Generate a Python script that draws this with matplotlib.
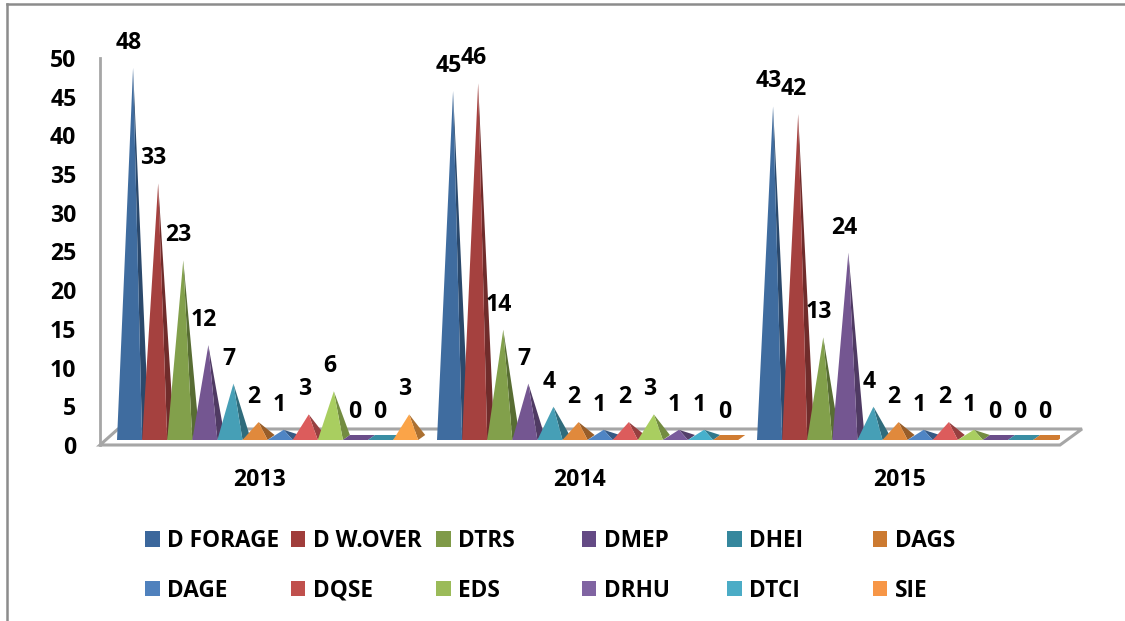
import matplotlib
matplotlib.use("Agg")
import matplotlib.pyplot as plt
from matplotlib.colors import to_rgb
from matplotlib.lines import Line2D
from matplotlib.patches import Patch

years = ["2013", "2014", "2015"]
series_names = ["D FORAGE", "D W.OVER", "DTRS", "DMEP", "DHEI", "DAGS",
                "DAGE", "DQSE", "EDS", "DRHU", "DTCI", "SIE"]
d_forage = [48, 45, 43]
d_wover = [33, 46, 42]
dtrs = [23, 14, 13]
dmep = [12, 7, 24]
dhei = [7, 4, 4]
dags = [2, 2, 2]
dage = [1, 1, 1]
dqse = [3, 2, 2]
eds = [6, 3, 1]
drhu = [0, 1, 0]
dtci = [0, 1, 0]
sie = [3, 0, 0]
series_values = [d_forage, d_wover, dtrs, dmep, dhei, dags,
                 dage, dqse, eds, drhu, dtci, sie]
legend_colors = ["#3B679C", "#A03D3B", "#7F9A48", "#644A85", "#35879D", "#CC7A30",
                 "#4F81BD", "#C0504D", "#9BBB59", "#8064A2", "#4BACC6", "#F79646"]
front_colors = ["#3F6C9F", "#A5413F", "#82A04B", "#745691", "#469FB6", "#E0893C",
                "#4F85C4", "#DC5C5C", "#A9CE60", "#7A5C9C", "#46B0CC", "#FBA448"]
flat_colors = ["#3F6C9F", "#A5413F", "#82A04B", "#6B4E8A", "#3A8EA3", "#D07C32",
               "#4F85C4", "#DC5C5C", "#A9CE60", "#6B4E8A", "#3A8EA3", "#D07C32"]

W, H = 1125, 621
plt.rcParams["font.family"] = ["Open Sans", "DejaVu Sans"]
plt.rcParams["font.weight"] = "bold"
FS = 16.6
LFS = 16.3
GRAY = "#A6A6A6"

fig = plt.figure(figsize=(W / 100, H / 100), dpi=100, facecolor="white")


def rect(x0, y_top, x1, y_bot):
    return [x0 / W, 1 - y_bot / H, (x1 - x0) / W, (y_bot - y_top) / H]


# Tick axes: the front plane of the chart
axt = fig.add_axes(rect(100, 58, 1060, 445))
axt.set_xlim(0, 3)
axt.set_ylim(0, 50)
axt.set_yticks(range(0, 51, 5))
axt.set_xticks([0.5, 1.5, 2.5], years)
axt.tick_params(axis="both", length=0, labelsize=FS, labelcolor="black")
axt.tick_params(axis="x", pad=16.5)
axt.tick_params(axis="y", pad=17)
for s in ["top", "right", "bottom"]:
    axt.spines[s].set_visible(False)
axt.spines["left"].set_color(GRAY)
axt.spines["left"].set_linewidth(2)
axt.patch.set_alpha(0)

# Pyramid axes: the same width, zero lies on the middle of the floor
PX_PER_UNIT = 7.7
ZERO_PX = 437.5
ax = fig.add_axes(rect(100, 58, 1060, 445), sharex=axt)
ax.set_ylim((ZERO_PX - 445) / PX_PER_UNIT, (ZERO_PX - 58) / PX_PER_UNIT)
ax.axis("off")

px_x = 3 / 960
px_y = 1 / PX_PER_UNIT


def floor_xy(x, y):
    return (x - 100) * px_x, (ZERO_PX - y) * px_y


floor = [(100, 445), (1060, 445), (1082, 429), (118, 429)]
fx, fy = zip(*[floor_xy(*p) for p in floor])
ax.fill(fx, fy, facecolor="white", edgecolor=GRAY, linewidth=2.2, zorder=1, clip_on=False)

bar_w = 25.1 * px_x
first = 17 * px_x
y_front = -2.5 * px_y
y_back = 2.5 * px_y
depth = 7 * px_x
apex_dx = 3.5 * px_x

for g in range(len(years)):
    for i, (vals, col, flat) in enumerate(zip(series_values, front_colors, flat_colors)):
        v = vals[g]
        x0 = g + first + i * bar_w
        x1 = x0 + bar_w
        xa = (x0 + x1) / 2 + apex_dx
        z = 3 + i * 0.01
        if v == 0:
            ax.fill([x0, x1, x1 + depth, x0 + depth], [y_front, y_front, y_back, y_back],
                    color=flat, linewidth=0, zorder=z)
        else:
            dark = tuple(c * 0.68 for c in to_rgb(col))
            ax.fill([xa, x1, x1 + depth], [v, y_front, y_back], color=dark, linewidth=0, zorder=z)
            ax.fill([x0, x1, xa], [y_front, y_front, v], color=col, linewidth=0, zorder=z + 0.001)
        ax.annotate(str(v), ((x0 + x1) / 2, v), xytext=(-0.7, 18.0), textcoords="offset points",
                    ha="center", va="center", fontsize=FS, color="black", zorder=10,
                    annotation_clip=False)

# Legend: six columns of two entries
col_x = [145, 290.5, 436, 581.5, 727, 872.5]
for c, left in enumerate(col_x):
    handles = [Patch(facecolor=legend_colors[c]), Patch(facecolor=legend_colors[c + 6])]
    labels = [series_names[c], series_names[c + 6]]
    leg = fig.legend(handles, labels, loc="upper left",
                     bbox_to_anchor=(left / W, 1 - 529 / H), frameon=False,
                     borderaxespad=0, borderpad=0, fontsize=LFS, ncol=1,
                     handlelength=0.66, handleheight=0.66, handletextpad=0.32,
                     labelspacing=1.14)

# Picture border
for xs, ys in [((7, 7), (621, 4)), ((7, 1125), (4, 4))]:
    fig.add_artist(Line2D([x / W for x in xs], [1 - y / H for y in ys],
                          color="#8C8C8C", linewidth=1.8))

fig.savefig("out.png", dpi=100, facecolor="white")
